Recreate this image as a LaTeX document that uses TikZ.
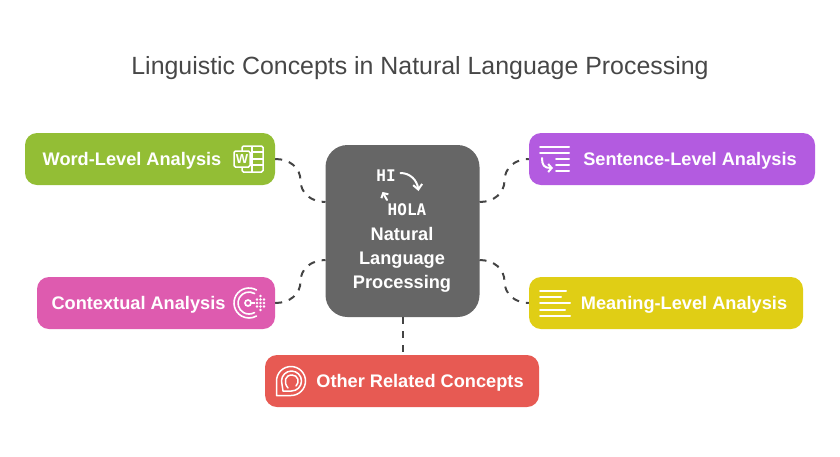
\documentclass[tikz,border=0pt]{standalone}
\usepackage{fontspec}
\setmainfont{Liberation Sans}
\newfontfamily\pixfont{DejaVu Sans Mono}
\usetikzlibrary{arrows.meta}
\definecolor{cgreen}{HTML}{93BE35}
\definecolor{cpurple}{HTML}{B35BE0}
\definecolor{cpink}{HTML}{DE5BAF}
\definecolor{cyellow}{HTML}{E0CE15}
\definecolor{cred}{HTML}{E75A53}
\definecolor{cgrey}{HTML}{666666}
\definecolor{cline}{HTML}{444444}
\definecolor{ctitle}{HTML}{474747}
\tikzset{
  box/.style={rounded corners=12pt,inner sep=0pt,minimum height=52pt,text=white},
  label/.style={text=white,font=\fontsize{18.2}{22}\selectfont\bfseries,inner sep=0pt},
  link/.style={draw=cline,line width=2pt,dash pattern=on 7pt off 7pt},
  ico/.style={draw=white,line width=2pt,line cap=round},
  icothin/.style={draw=white,line width=1.5pt},
}
\begin{document}
\begin{tikzpicture}[x=1pt,y=-1pt]
\useasboundingbox (0,0) rectangle (840,456);
\node[text=ctitle,font=\fontsize{24.9}{28}\selectfont,inner sep=0pt] (title) at (420,68) {Linguistic Concepts in Natural Language Processing};

\node[box,fill=cgrey,rounded corners=22pt,minimum width=154pt,minimum height=172pt] (c) at (402.5,231) {};
\node[box,fill=cgreen,minimum width=250pt] (w) at (150,159) {};
\node[box,fill=cpurple,minimum width=286pt] (s) at (672,159) {};
\node[box,fill=cpink,minimum width=238pt] (x) at (156,303) {};
\node[box,fill=cyellow,minimum width=274pt] (m) at (666,303) {};
\node[box,fill=cred,minimum width=274pt] (o) at (402,381) {};

\coordinate (cwt) at (325.5,202);
\coordinate (cwb) at (325.5,260);
\coordinate (cet) at (479.5,202);
\coordinate (ceb) at (479.5,260);
\coordinate (mw) at (300.5,180.5);
\coordinate (mx) at (300.5,281.5);
\coordinate (ms) at (504.5,180.5);
\coordinate (mm) at (504.5,281.5);
\draw[link] (w.east) .. controls (290,159) and (300.5,168) .. (mw) .. controls (300.5,193) and (311,202) .. (cwt);
\draw[link] (x.east) .. controls (290,303) and (300.5,294) .. (mx) .. controls (300.5,269) and (311,260) .. (cwb);
\draw[link] (cet) .. controls (494,202) and (504.5,193) .. (ms) .. controls (504.5,168) and (515,159) .. (s.west);
\draw[link] (ceb) .. controls (494,260) and (504.5,269) .. (mm) .. controls (504.5,294) and (515,303) .. (m.west);
\draw[link] (c.south) -- (c.south |- o.north);

\node[label] (wt) at (132,161) {Word-Level Analysis};
\node[label] (st) at (690,161) {Sentence-Level Analysis};
\node[label] (xt) at (138.5,305) {Contextual Analysis};
\node[label] (mt) at (684,305) {Meaning-Level Analysis};
\node[label] (ot) at (420,383) {Other Related Concepts};
\node[label,align=center,font=\fontsize{18.2}{24}\selectfont\bfseries] (ct) at (402,260) {Natural\\Language\\Processing};

% centre icon
\node[text=white,font=\pixfont\bfseries\fontsize{16}{16}\selectfont,inner sep=0pt] (hi) at (386,176) {HI};
\node[text=white,font=\pixfont\bfseries\fontsize{16}{16}\selectfont,inner sep=0pt] (hola) at (407,210) {HOLA};
\draw[ico,-{Straight Barb[length=5pt,width=9pt]}] (400.5,173) .. controls (410,173) and (417,180) .. (418.5,191);
\draw[ico,-{Straight Barb[length=3.5pt,width=8pt]}] (387,200) -- (382.5,192);

% word icon
\draw[icothin,rounded corners=1.5pt,fill=cgreen] (242,146) rectangle (263,172);
\draw[icothin] (251,152) -- (263,152) (251,159) -- (263,159) (251,165) -- (263,165) (252,146) -- (252,172);
\draw[icothin,rounded corners=1.5pt,fill=cgreen] (234,151) rectangle (250,167);
\node[text=white,font=\fontsize{13}{13}\selectfont\bfseries,inner sep=0pt] (wl) at (242,159) {W};

% sentence icon
\draw[ico] (540,146.5) -- (569,146.5) (540,152.5) -- (569,152.5) (556,159) -- (569,159) (556,164.5) -- (569,164.5) (556,171) -- (569,171);
\draw[ico,-{Straight Barb[length=3.5pt,width=8pt]}] (542,158) .. controls (542,165) and (544,168) .. (553,168);

% contextual icon
\draw[ico,line width=1.6pt] (256.5,290) arc (-60:-300:15);
\draw[ico,line width=1.6pt] (254.5,293.5) arc (-60:-300:11);
\draw[icothin,line width=1.7pt] (248,303) circle (3);
\draw[icothin] (251,303) -- (255,303);
\foreach \a/\b in {257/303,260.5/303,264/303,260.5/299.5,260.5/306.5,257/299.5,264/299.5,257/306.5,264/306.5,260.5/296,260.5/310}
  \fill[white] (\a,\b) circle (1.3);

% meaning icon
\draw[ico] (540,291) -- (566,291) (540,297) -- (561,297) (540,303) -- (570,303) (540,310) -- (565,310) (540,316) -- (570,316);

% other icon
\draw[icothin,line join=round] (276.5,395.5) -- (276.5,381) .. controls (276.5,373) and (283,366.5) .. (291,366.5) .. controls (299,366.5) and (305.5,373) .. (305.5,381) .. controls (305.5,389) and (299,395.5) .. (291,395.5) -- cycle;
\draw[icothin,line join=round] (283,391) -- (281.5,381) .. controls (281.5,375.5) and (286,371) .. (291.5,371) .. controls (297,371) and (301.5,375.5) .. (301.5,381) .. controls (301.5,386.5) and (297,391) .. (291.5,391) -- cycle;
\draw[icothin,line cap=round] (288,388) .. controls (283,382) and (285,375) .. (292,375) .. controls (298,375) and (300,382) .. (296,386);
\end{tikzpicture}
\end{document}
